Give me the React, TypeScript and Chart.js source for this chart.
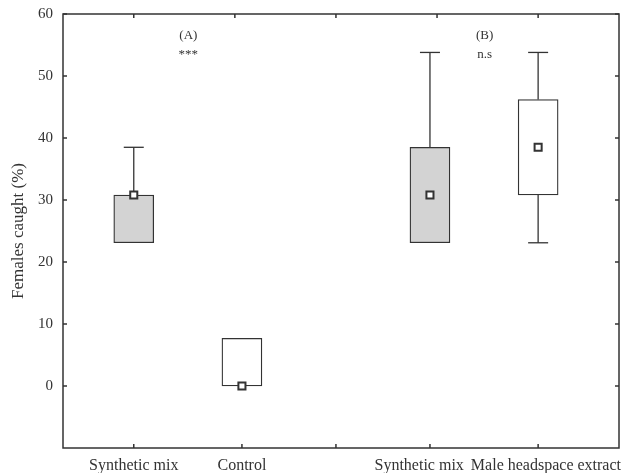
import React, { useEffect, useRef } from "react";
import { Chart, registerables } from "chart.js";

Chart.register(...registerables);

const categories = ["Synthetic mix", "Control", "Synthetic mix", "Male headspace extract"];
const positions = [1, 2.07, 3.93, 5];
const q1 = [23.1, 0, 23.1, 30.8];
const q3 = [30.8, 7.7, 38.5, 46.2];
const whiskerLow = [23.1, 0, 23.1, 23.1];
const whiskerHigh = [38.5, 7.7, 53.8, 53.8];
const medians = [30.8, 0, 30.8, 38.5];
const boxFills = ["#d3d3d3", "#ffffff", "#d3d3d3", "#ffffff"];
const yTicks = [0, 10, 20, 30, 40, 50, 60];
const xTopTicks = [1, 2, 3, 4, 5];
const xBottomTicks = [1, 2.07, 3, 3.93, 5];
const annotations = [
  { x: 1.54, y: 55.9, text: "(A)" },
  { x: 1.54, y: 52.9, text: "***" },
  { x: 4.47, y: 55.9, text: "(B)" },
  { x: 4.47, y: 52.9, text: "n.s" },
];

const INK = "#333333";
const FONT = "'Liberation Serif', 'Times New Roman', serif";

const zeroPadding = (s: any) => {
  s.paddingTop = 0;
  s.paddingBottom = 0;
  s.paddingLeft = 0;
  s.paddingRight = 0;
};

const boxPlotPlugin = {
  id: "boxPlotExtras",
  beforeDatasetsDraw(chart: any) {
    const { ctx, scales } = chart;
    const x = scales.x;
    const y = scales.y;
    ctx.save();
    ctx.strokeStyle = INK;
    ctx.lineWidth = 1.3;
    positions.forEach((p, i) => {
      const px = x.getPixelForValue(p);
      const cap = 10;
      const segs: [number, number][] = [
        [q3[i], whiskerHigh[i]],
        [whiskerLow[i], q1[i]],
      ];
      segs.forEach(([a, b]) => {
        if (Math.abs(a - b) < 1e-9) return;
        ctx.beginPath();
        ctx.moveTo(px, y.getPixelForValue(a));
        ctx.lineTo(px, y.getPixelForValue(b));
        ctx.stroke();
      });
      if (whiskerHigh[i] > q3[i]) {
        const yy = y.getPixelForValue(whiskerHigh[i]);
        ctx.beginPath();
        ctx.moveTo(px - cap, yy);
        ctx.lineTo(px + cap, yy);
        ctx.stroke();
      }
      if (whiskerLow[i] < q1[i]) {
        const yy = y.getPixelForValue(whiskerLow[i]);
        ctx.beginPath();
        ctx.moveTo(px - cap, yy);
        ctx.lineTo(px + cap, yy);
        ctx.stroke();
      }
    });
    ctx.restore();
  },
  afterDraw(chart: any) {
    const { ctx, chartArea, scales } = chart;
    const x = scales.x;
    const y = scales.y;
    const { left, right, top, bottom } = chartArea;
    ctx.save();
    ctx.strokeStyle = INK;
    ctx.lineWidth = 1.5;
    ctx.strokeRect(left, top, right - left, bottom - top);
    const tl = 4;
    ctx.beginPath();
    xTopTicks.forEach((v) => {
      const px = x.getPixelForValue(v);
      ctx.moveTo(px, top);
      ctx.lineTo(px, top + tl);
    });
    xBottomTicks.forEach((v) => {
      const px = x.getPixelForValue(v);
      ctx.moveTo(px, bottom);
      ctx.lineTo(px, bottom - tl);
    });
    yTicks.forEach((v) => {
      const py = y.getPixelForValue(v);
      ctx.moveTo(left, py);
      ctx.lineTo(left + tl, py);
      ctx.moveTo(right, py);
      ctx.lineTo(right - tl, py);
    });
    ctx.stroke();

    // category labels, centred under boxes and pushed apart where they would collide
    ctx.font = `16px ${FONT}`;
    ctx.fillStyle = INK;
    ctx.textBaseline = "alphabetic";
    ctx.textAlign = "left";
    const gap = 10;
    const items = categories.map((c, i) => {
      const w = ctx.measureText(c).width;
      const cx = x.getPixelForValue(positions[i]);
      return { c, w, l: cx - w / 2 };
    });
    for (let i = 0; i < items.length - 1; i++) {
      const a = items[i];
      const b = items[i + 1];
      const overlap = a.l + a.w + gap - b.l;
      if (overlap > 0) {
        a.l -= overlap / 2;
        b.l += overlap / 2;
      }
    }
    const maxRight = chart.width - 1;
    const last = items[items.length - 1];
    if (last.l + last.w > maxRight) last.l = maxRight - last.w;
    items.forEach((it) => ctx.fillText(it.c, it.l, bottom + 22));

    ctx.font = `13px ${FONT}`;
    ctx.textAlign = "center";
    annotations.forEach((a) => {
      ctx.fillText(a.text, x.getPixelForValue(a.x), y.getPixelForValue(a.y));
    });
    ctx.restore();
  },
};

export default function App() {
  const ref = useRef<HTMLCanvasElement | null>(null);
  useEffect(() => {
    if (!ref.current) return;
    const chart = new Chart(ref.current, {
      type: "bar",
      data: {
        datasets: [
          {
            type: "scatter",
            label: "Median",
            data: positions.map((p, i) => ({ x: p, y: medians[i] })),
            pointStyle: "rect",
            pointRadius: 5,
            pointBackgroundColor: "#ffffff",
            pointBorderColor: INK,
            pointBorderWidth: 2,
            order: 0,
          } as any,
          {
            type: "bar",
            label: "Box",
            data: positions.map((p, i) => ({ x: p, y: [q1[i], q3[i]] })) as any,
            backgroundColor: boxFills,
            borderColor: INK,
            borderWidth: 1.3,
            borderSkipped: false,
            barThickness: 40,
            order: 1,
          },
        ],
      },
      options: {
        animation: false,
        responsive: true,
        maintainAspectRatio: false,
        layout: { autoPadding: false, padding: { top: 14, right: 3, left: 0, bottom: 0 } },
        plugins: { legend: { display: false }, tooltip: { enabled: false } },
        scales: {
          x: {
            type: "linear",
            min: 0.3,
            max: 5.8,
            offset: false,
            grid: { display: false, drawTicks: false, offset: false },
            border: { display: false },
            ticks: { display: false },
            afterFit: (s: any) => {
              s.height = 25;
              zeroPadding(s);
            },
          },
          y: {
            type: "linear",
            min: -10,
            max: 60,
            grid: { display: false, drawTicks: false },
            border: { display: false },
            afterBuildTicks: (s: any) => {
              s.ticks = yTicks.map((v) => ({ value: v }));
            },
            ticks: {
              padding: 10,
              color: INK,
              font: { family: FONT, size: 15 },
            },
            title: {
              display: true,
              text: "Females caught (%)",
              color: INK,
              font: { family: FONT, size: 17 },
              padding: { top: 8, bottom: 0 },
            },
            afterFit: (s: any) => {
              s.width = 63;
              zeroPadding(s);
            },
          },
        },
      },
      plugins: [boxPlotPlugin],
    });
    return () => chart.destroy();
  }, []);
  return (
    <div style={{ position: "fixed", left: 0, top: 0, width: 622, height: 473, background: "#fff" }}>
      <canvas ref={ref} />
    </div>
  );
}
